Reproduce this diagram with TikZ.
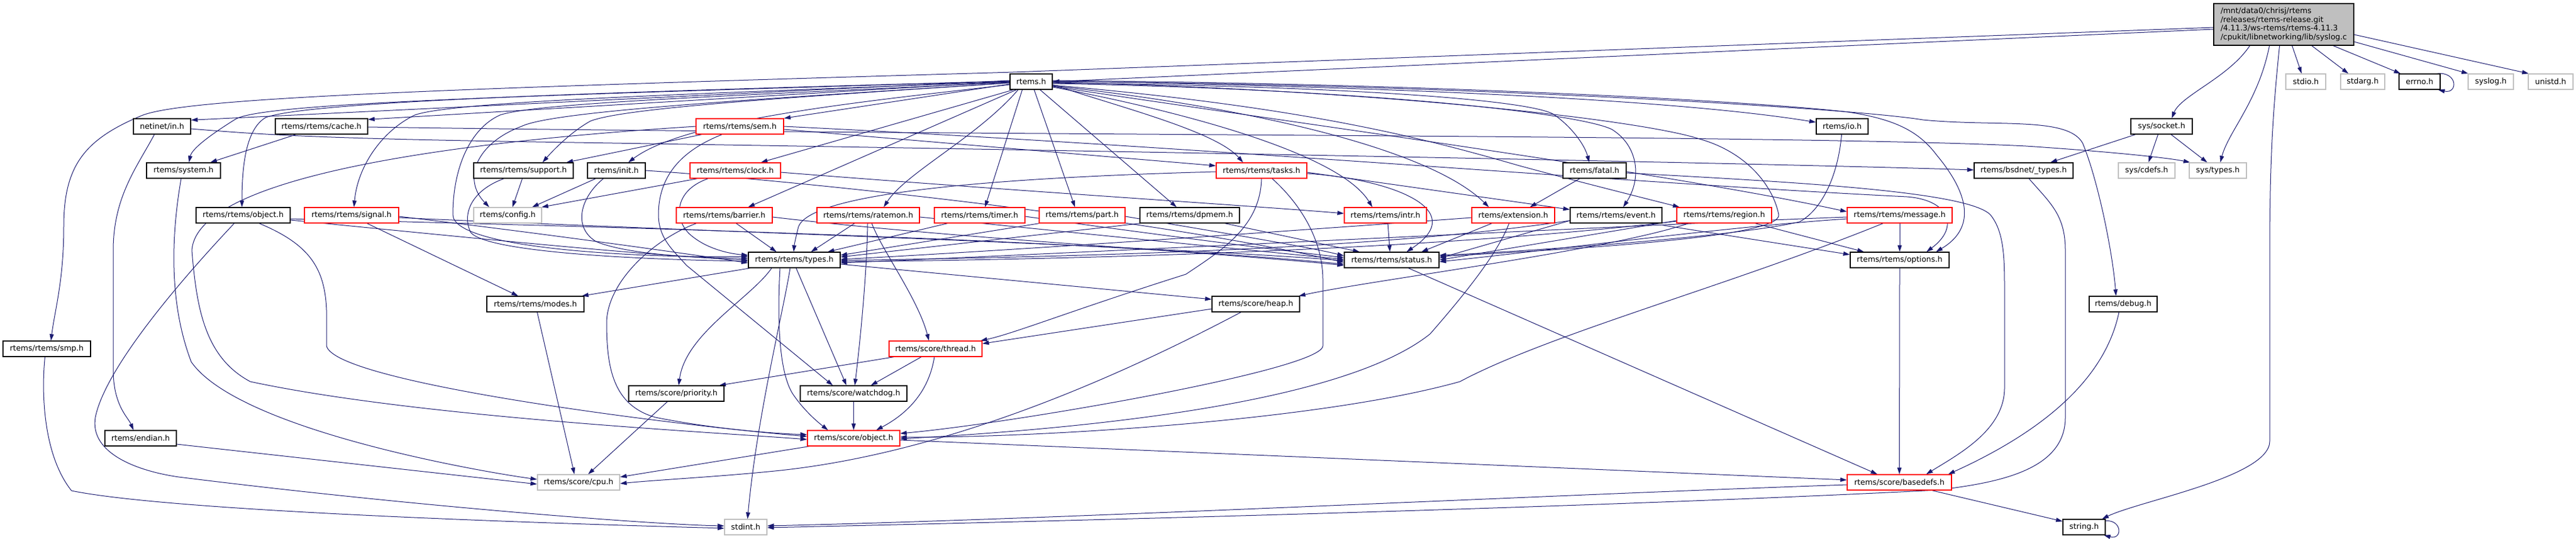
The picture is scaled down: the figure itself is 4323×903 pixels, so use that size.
\documentclass[tikz,border=0pt]{standalone}
\usepackage{fontspec}
\setmainfont{DejaVu Sans}
\usetikzlibrary{arrows.meta}
\definecolor{edgec}{HTML}{191970}
\definecolor{redb}{HTML}{FF0000}
\definecolor{greyb}{HTML}{BFBFBF}
\definecolor{mainfill}{HTML}{BFBFBF}
\pgfdeclarelayer{bg}
\pgfsetlayers{bg,main}
\begin{document}
\begin{tikzpicture}[x=1pt,y=-1pt,
  box/.style={draw=black, fill=white, line width=1.3pt, minimum height=26pt, inner sep=0pt, font=\fontsize{12.9pt}{14.7pt}\selectfont},
  redbox/.style={box, draw=redb},
  greybox/.style={box, draw=greyb},
  e/.style={draw=edgec, line width=1pt, -{Triangle[length=11pt,width=7pt]}}]
\useasboundingbox (0,0) rectangle (4323,903);
% ---------------- nodes ----------------
\node[box, fill=mainfill, minimum width=235pt, minimum height=70pt, align=left] (main) at (3832.5,41) {/mnt/data0/chrisj/rtems\\/releases/rtems-release.git\\/4.11.3/ws-rtems/rtems-4.11.3\\/cpukit/libnetworking/lib/syslog.c};
% row 1
\node[box, minimum width=71pt] (rtems) at (1730.5,137) {rtems.h};
\node[greybox, minimum width=67pt] (stdio) at (3869.5,137) {stdio.h};
\node[greybox, minimum width=74pt] (stdarg) at (3965,137) {stdarg.h};
\node[box, minimum width=69pt] (errno) at (4060.5,137) {errno.h};
\node[greybox, minimum width=76pt] (syslog) at (4180,137) {syslog.h};
\node[greybox, minimum width=75pt] (unistd) at (4280.5,137) {unistd.h};
% row 2
\node[box, minimum width=96pt] (netin) at (272,212) {netinet/in.h};
\node[box, minimum width=155pt] (cache) at (539.5,212) {rtems/rtems/cache.h};
\node[redbox, minimum width=147pt] (sem) at (1241.5,212) {rtems/rtems/sem.h};
\node[box, minimum width=87pt] (io) at (3091.5,212) {rtems/io.h};
\node[box, minimum width=103pt] (socket) at (3627.5,212) {sys/socket.h};
% row 3
\node[box, minimum width=124pt] (system) at (308,286) {rtems/system.h};
\node[box, minimum width=167pt] (support) at (878.5,286) {rtems/rtems/support.h};
\node[box, minimum width=97pt] (init) at (1034.5,286) {rtems/init.h};
\node[redbox, minimum width=152pt] (clock) at (1234,286) {rtems/rtems/clock.h};
\node[redbox, minimum width=152pt] (tasks) at (2117,286) {rtems/rtems/tasks.h};
\node[box, minimum width=106pt] (fatal) at (2676,286) {rtems/fatal.h};
\node[box, minimum width=166pt] (bsdnet) at (3396,286) {rtems/bsdnet/\_types.h};
\node[greybox, minimum width=95pt] (cdefs) at (3602.5,286) {sys/cdefs.h};
\node[greybox, minimum width=96pt] (systypes) at (3722,286) {sys/types.h};
% row 4
\node[box, minimum width=158pt] (robject) at (408,361) {rtems/rtems/object.h};
\node[redbox, minimum width=158pt] (signal) at (590,361) {rtems/rtems/signal.h};
\node[greybox, minimum width=114pt] (config) at (852,361) {rtems/config.h};
\node[redbox, minimum width=161pt] (barrier) at (1215.5,361) {rtems/rtems/barrier.h};
\node[redbox, minimum width=172pt] (ratemon) at (1457,361) {rtems/rtems/ratemon.h};
\node[redbox, minimum width=152pt] (timer) at (1644,361) {rtems/rtems/timer.h};
\node[redbox, minimum width=144pt] (part) at (1816,361) {rtems/rtems/part.h};
\node[box, minimum width=167pt] (dpmem) at (1996.5,361) {rtems/rtems/dpmem.h};
\node[redbox, minimum width=138pt] (intr) at (2325,361) {rtems/rtems/intr.h};
\node[redbox, minimum width=139pt] (ext) at (2539.5,361) {rtems/extension.h};
\node[box, minimum width=154pt] (event) at (2712,361) {rtems/rtems/event.h};
\node[redbox, minimum width=159pt] (region) at (2893.5,361) {rtems/rtems/region.h};
\node[redbox, minimum width=176pt] (message) at (3188,361) {rtems/rtems/message.h};
% row 5
\node[box, minimum width=154pt] (types) at (1333,436) {rtems/rtems/types.h};
\node[box, minimum width=159pt] (status) at (2335.5,436) {rtems/rtems/status.h};
\node[box, minimum width=166pt] (options) at (3188,436) {rtems/rtems/options.h};
% row 6
\node[box, minimum width=163pt] (modes) at (898.5,510) {rtems/rtems/modes.h};
\node[box, minimum width=147pt] (heap) at (2107.5,510) {rtems/score/heap.h};
\node[box, minimum width=114pt] (debug) at (3563,510) {rtems/debug.h};
% row 7
\node[box, minimum width=147pt] (smp) at (78.5,585) {rtems/rtems/smp.h};
\node[redbox, minimum width=156pt] (thread) at (1570,585) {rtems/score/thread.h};
% row 8
\node[box, minimum width=160pt] (priority) at (1135,660) {rtems/score/priority.h};
\node[box, minimum width=179pt] (watchdog) at (1432.5,660) {rtems/score/watchdog.h};
% row 9
\node[box, minimum width=120pt] (endian) at (236,735) {rtems/endian.h};
\node[redbox, minimum width=155pt] (sobject) at (1432.5,735) {rtems/score/object.h};
% row 10
\node[greybox, minimum width=138pt] (cpu) at (971,809) {rtems/score/cpu.h};
\node[redbox, minimum width=175pt] (basedefs) at (3187.5,809) {rtems/score/basedefs.h};
% row 11
\node[greybox, minimum width=71pt] (stdint) at (1251.5,884) {stdint.h};
\node[box, minimum width=71pt] (string) at (3497.5,884) {string.h};
% ---------------- edges ----------------
\begin{pgfonlayer}{bg}
\fill[white] (0,0) rectangle (4323,903);
% main
\draw[e] ([yshift=-8pt]main.west) -- (rtems.east);
\draw[e] ([yshift=-5pt]main.west) -- (1700,121) .. controls (700,150) and (300,165) .. (235,195) .. controls (140,235) and (107,280) .. (107,380) .. controls (107,470) and (92,520) .. ([xshift=7pt]smp.north);
\draw[e] ([xshift=-57pt]main.south) .. controls (3740,130) and (3660,160) .. ([xshift=17pt]socket.north);
\draw[e] ([xshift=-24pt]main.south) .. controls (3790,170) and (3740,220) .. ([xshift=4pt]systypes.north);
\draw[e] ([xshift=-7pt]main.south) .. controls (3815,180) and (3809,260) .. (3809,420) -- (3809,740) .. controls (3809,800) and (3590,840) .. ([xshift=-6pt]string.north east);
\draw[e] ([xshift=14pt]main.south) -- ([xshift=-7pt]stdio.north);
\draw[e] ([xshift=47pt]main.south) -- ([xshift=-24pt]stdarg.north);
\draw[e] ([xshift=83pt]main.south) -- ([xshift=-32pt]errno.north);
\draw[e] ([yshift=-29pt]main.east) -- ([xshift=-38pt]syslog.north);
\draw[e] ([yshift=-17pt]main.east) -- ([xshift=-37pt]unistd.north);
\draw[e] ([xshift=-6pt]errno.north east) .. controls (4125,120) and (4125,158) .. ([xshift=-4pt]errno.south east);
\draw[e] ([yshift=-3pt]string.north east) .. controls (3562,872) and (3562,906) .. ([xshift=-3pt]string.south east);
% socket
\draw[e] ([xshift=-44pt]socket.south) -- ([xshift=45pt]bsdnet.north);
\draw[e] ([xshift=-6pt]socket.south) -- ([xshift=3pt]cdefs.north);
\draw[e] ([xshift=16pt]socket.south) -- ([xshift=-18pt]systypes.north);
% rtems.h to the left
\draw[e] ([yshift=2pt]rtems.west) -- ([yshift=-3pt]netin.north east);
\draw[e] ([yshift=0pt]rtems.west) -- ([yshift=-2pt]cache.north east);
\draw[e] ([yshift=-4pt]rtems.west) -- (sem.north east);
\draw[e] ([yshift=1pt]rtems.west) .. controls (900,160) and (440,172) .. (395,200) .. controls (350,228) and (322,250) .. ([xshift=9pt]system.north);
\draw[e] ([yshift=1pt]rtems.west) .. controls (1000,155) and (520,170) .. (446,197) .. controls (415,215) and (406,270) .. ([xshift=-2pt]robject.north);
\draw[e] ([yshift=0pt]rtems.west) .. controls (1150,158) and (760,170) .. (696,193) .. controls (640,220) and (600,280) .. ([xshift=4pt]signal.north);
\draw[e] ([yshift=-1pt]rtems.west) .. controls (1250,160) and (900,172) .. (839,193) .. controls (790,215) and (760,280) .. (760,360) .. controls (760,420) and (1100,433) .. ([yshift=6pt]types.west);
\draw[e] ([yshift=-2pt]rtems.west) .. controls (1300,165) and (930,185) .. (875,212) .. controls (800,240) and (775,300) .. ([xshift=-31pt]config.north);
\draw[e] ([yshift=-2pt]rtems.west) .. controls (1350,162) and (1050,180) .. (991,203) .. controls (960,220) and (930,250) .. ([xshift=32pt]support.north);
\draw[e] ([yshift=-5pt]rtems.west) .. controls (1450,170) and (1150,200) .. ([xshift=20pt]init.north);
\draw[e] ([xshift=-30pt]rtems.south) -- ([xshift=43pt]clock.north);
\draw[e] ([xshift=-25pt]rtems.south) -- ([xshift=40pt]barrier.north);
% rtems.h downwards / right
\draw[e] ([xshift=-22pt]rtems.south) .. controls (1640,230) and (1520,290) .. ([xshift=26pt]ratemon.north);
\draw[e] ([xshift=-15pt]rtems.south) -- ([xshift=9pt]timer.north);
\draw[e] ([xshift=5pt]rtems.south) -- ([xshift=-12pt]part.north);
\draw[e] ([xshift=15pt]rtems.south) -- ([xshift=-22pt]dpmem.north);
\draw[e] ([yshift=-5pt]rtems.east) .. controls (1880,180) and (2040,220) .. ([xshift=-31pt]tasks.north);
\draw[e] ([yshift=-9pt]rtems.east) .. controls (2000,190) and (2250,260) .. ([xshift=-22pt]intr.north);
\draw[e] ([yshift=-7pt]rtems.east) .. controls (2100,180) and (2400,250) .. ([xshift=-41pt]ext.north);
\draw[e] ([yshift=-2pt]rtems.east) .. controls (2300,145) and (2580,170) .. (2609,193) .. controls (2640,215) and (2660,245) .. ([xshift=-9pt]fatal.north);
\draw[e] ([yshift=-3pt]rtems.east) .. controls (2300,150) and (2650,190) .. (2705,217) .. controls (2750,245) and (2755,300) .. ([xshift=12pt]event.north);
\draw[e] ([yshift=-6pt]rtems.east) .. controls (2200,180) and (2400,235) .. (2550,278) .. controls (2650,305) and (2750,330) .. ([xshift=-75pt]region.north);
\draw[e] ([yshift=-8pt]rtems.east) .. controls (2200,210) and (2800,290) .. ([yshift=6pt]message.west);
\draw[e] ([yshift=1pt]rtems.east) .. controls (2300,145) and (2800,165) .. ([yshift=7pt]io.west);
\draw[e] ([yshift=0pt]rtems.east) .. controls (2400,140) and (3100,180) .. (3227,201) .. controls (3350,213) and (3470,195) .. (3495,240) .. controls (3520,300) and (3545,420) .. ([xshift=-12pt]debug.north);
\draw[e] ([yshift=-1pt]rtems.east) .. controls (2300,150) and (2750,200) .. (2852,233) .. controls (2930,255) and (2975,310) .. (2985,360) .. controls (2990,395) and (2700,415) .. ([yshift=6pt]status.east);
\draw[e] ([yshift=2pt]rtems.east) .. controls (2400,140) and (2950,170) .. (3102,188) .. controls (3180,200) and (3220,220) .. (3250,260) .. controls (3300,320) and (3320,380) .. ([xshift=61pt]options.north);
% cache, netinet
\draw[e] ([xshift=-43pt]cache.south) -- ([xshift=45pt]system.north);
\draw[e] ([yshift=-1pt]cache.east) .. controls (1600,228) and (3000,225) .. (3400,245) .. controls (3550,255) and (3640,265) .. ([xshift=2pt]systypes.north west);
\draw[e] ([xshift=-13pt]netin.south) .. controls (230,280) and (190,330) .. (190,420) -- (190,620) .. controls (190,680) and (215,700) .. ([xshift=-12pt]endian.north);
\draw[e] ([yshift=-4pt]netin.east) .. controls (430,225) and (520,232) .. (900,238) .. controls (2000,255) and (3000,275) .. ([yshift=1pt]bsdnet.west);
% sem
\draw[e] ([xshift=-64pt]sem.south) -- ([xshift=72pt]support.north);
\draw[e] (sem.west) .. controls (800,235) and (330,290) .. (322,420) .. controls (330,520) and (345,600) .. (420,640) .. controls (700,700) and (1200,725) .. ([yshift=-2pt]sobject.west);
\draw[e] ([xshift=-30pt]sem.south) .. controls (1150,250) and (1105,290) .. (1105,360) .. controls (1105,400) and (1130,420) .. (1152,445) -- ([xshift=-35pt]watchdog.north);
\draw[e] ([yshift=-5pt]sem.east) -- ([yshift=8pt]tasks.west);
\draw[e] (sem.east) .. controls (2000,245) and (2700,305) .. (3200,330) .. controls (3270,335) and (3290,380) .. ([xshift=45pt]options.north);
% support, init, clock
\draw[e] ([xshift=-33pt]support.south) .. controls (790,320) and (775,360) .. (790,390) .. controls (820,425) and (1100,436) .. ([yshift=-2pt]types.west);
\draw[e] ([xshift=-2pt]support.south) -- ([xshift=8pt]config.north);
\draw[e] ([xshift=-35pt]init.south) -- ([xshift=41pt]config.north);
\draw[e] ([xshift=-22pt]init.south) .. controls (975,330) and (960,380) .. (1000,405) .. controls (1060,430) and (1200,433) .. ([yshift=3pt]types.west);
\draw[e] (init.east) .. controls (1300,300) and (1900,360) .. ([yshift=-4pt]status.west);
\draw[e] ([xshift=-64pt]clock.south) -- ([xshift=57pt]config.north);
\draw[e] ([xshift=-46pt]clock.south) .. controls (1130,320) and (1130,370) .. (1160,395) .. controls (1190,420) and (1230,426) .. ([yshift=8pt]types.west);
\draw[e] ([yshift=-3pt]clock.east) .. controls (1700,320) and (2100,345) .. ([yshift=3pt]intr.west);
% row 4 left
\draw[e] ([yshift=-8pt]robject.east) .. controls (800,400) and (1100,430) .. ([yshift=0pt]types.west);
\draw[e] ([yshift=-6pt]robject.east) .. controls (1000,380) and (1800,400) .. ([yshift=-7pt]status.west);
\draw[e] ([xshift=-15pt]robject.south) .. controls (360,410) and (180,600) .. (160,700) .. controls (150,760) and (230,790) .. (300,800) .. controls (700,850) and (1100,880) .. ([yshift=2pt]stdint.west);
\draw[e] ([xshift=27pt]robject.south) .. controls (520,410) and (545,450) .. (548,520) -- (548,580) .. controls (560,640) and (1100,710) .. ([yshift=3pt]sobject.west);
\draw[e] ([yshift=-2pt]signal.east) .. controls (900,390) and (1150,425) .. ([yshift=-5pt]types.west);
\draw[e] ([yshift=-4pt]signal.east) .. controls (1100,385) and (1900,410) .. ([yshift=-1pt]status.west);
\draw[e] ([xshift=26pt]signal.south) -- ([xshift=-29pt]modes.north);
\draw[e] ([xshift=20pt]barrier.south) -- ([xshift=-30pt]types.north);
\draw[e] ([yshift=-3pt]barrier.east) .. controls (1600,400) and (2000,420) .. ([yshift=-9pt]status.west);
\draw[e] ([xshift=-47pt]barrier.south) .. controls (1100,400) and (1020,470) .. (1018,540) .. controls (1018,620) and (1030,680) .. (1100,700) .. controls (1200,720) and (1300,727) .. ([yshift=6pt]sobject.west);
\draw[e] ([xshift=-23pt]ratemon.south) -- ([xshift=28pt]types.north);
\draw[e] ([yshift=-3pt]ratemon.east) .. controls (1800,390) and (2100,420) .. ([yshift=1pt]status.west);
\draw[e] ([xshift=-1pt]ratemon.south) .. controls (1455,450) and (1445,560) .. ([xshift=2pt]watchdog.north);
\draw[e] ([xshift=6pt]ratemon.south) .. controls (1480,420) and (1540,500) .. ([xshift=-11pt]thread.north);
\draw[e] ([xshift=-54pt]timer.south) -- ([xshift=56pt]types.north);
\draw[e] ([yshift=-2pt]timer.east) .. controls (1950,395) and (2150,420) .. ([yshift=4pt]status.west);
\draw[e] ([xshift=-72pt]part.south) -- ([yshift=8pt]types.east);
\draw[e] ([yshift=-2pt]part.east) .. controls (2050,390) and (2200,415) .. ([yshift=7pt]status.west);
\draw[e] ([xshift=-83pt]dpmem.south) -- ([yshift=5pt]types.east);
\draw[e] ([xshift=59pt]dpmem.south) -- ([xshift=-54pt]status.north);
% tasks
\draw[e] ([yshift=-2pt]tasks.west) .. controls (1600,300) and (1360,330) .. (1340,380) .. controls (1335,400) and (1333,410) .. ([xshift=-1pt]types.north);
\draw[e] (tasks.south) .. controls (2115,380) and (2050,420) .. (1990,460) .. controls (1800,520) and (1700,560) .. ([xshift=-3pt]thread.north east);
\draw[e] ([xshift=18pt]tasks.south) .. controls (2180,340) and (2220,400) .. (2220,470) -- (2220,580) .. controls (2220,620) and (1700,710) .. ([yshift=8pt]sobject.east);
\draw[e] ([yshift=-5pt]tasks.east) .. controls (2330,300) and (2470,350) .. ([xshift=25pt]status.north);
\draw[e] ([yshift=-3pt]tasks.east) -- ([yshift=-4pt]event.north west);
% row 4 right
\draw[e] ([xshift=4pt]intr.south) -- ([xshift=-3pt]status.north);
\draw[e] ([yshift=-4pt]ext.west) .. controls (2200,385) and (1700,420) .. ([yshift=1pt]types.east);
\draw[e] ([xshift=-36pt]ext.south) -- ([xshift=50pt]status.north);
\draw[e] ([xshift=-7pt]ext.south) .. controls (2515,420) and (2470,480) .. (2400,560) .. controls (2250,680) and (1800,720) .. ([yshift=-1pt]sobject.east);
\draw[e] ([xshift=-25pt]fatal.south) -- ([xshift=28pt]ext.north);
\draw[e] ([yshift=-4pt]fatal.east) .. controls (3000,305) and (3300,320) .. (3340,360) .. controls (3365,390) and (3364,440) .. (3364,500) -- (3364,650) .. controls (3364,720) and (3290,760) .. ([xshift=45pt]basedefs.north);
\draw[e] ([yshift=-3pt]event.south east) -- ([yshift=9pt]options.west);
\draw[e] ([yshift=-9pt]event.west) -- ([yshift=3pt]status.east);
\draw[e] ([yshift=-9pt]event.west) .. controls (2300,420) and (1800,430) .. ([yshift=-1pt]types.east);
\draw[e] ([xshift=52pt]region.south) -- ([xshift=-60pt]options.north);
\draw[e] ([yshift=-9pt]region.west) -- ([yshift=0pt]status.east);
\draw[e] ([yshift=-10pt]region.west) .. controls (2400,420) and (1800,435) .. ([yshift=-3pt]types.east);
\draw[e] ([xshift=-60pt]region.south) .. controls (2700,420) and (2300,470) .. ([xshift=-2pt]heap.north east);
\draw[e] (message.south) -- (options.north);
\draw[e] ([yshift=-6pt]message.west) .. controls (2900,380) and (2600,420) .. ([yshift=-3pt]status.east);
\draw[e] ([yshift=-3pt]message.west) .. controls (2800,375) and (1900,420) .. ([yshift=-5pt]types.east);
\draw[e] ([xshift=-28pt]message.south) .. controls (2900,480) and (2600,560) .. (2450,640) .. controls (2200,710) and (1700,735) .. ([yshift=2pt]sobject.east);
\draw[e] ([xshift=-1pt]io.south) .. controls (3085,290) and (3060,350) .. (3020,372) .. controls (2900,400) and (2500,425) .. ([yshift=8pt]status.east);
% lower part
\draw[e] ([xshift=28pt]status.south) -- ([xshift=-37pt]basedefs.north);
\draw[e] (options.south) -- (basedefs.north);
\draw[e] ([xshift=-7pt]debug.south) .. controls (3540,600) and (3480,700) .. ([xshift=82pt]basedefs.north);
\draw[e] ([xshift=9pt]bsdnet.south) .. controls (3440,340) and (3466,360) .. (3466,420) -- (3466,700) .. controls (3466,790) and (3350,810) .. (3250,822) .. controls (2600,855) and (1600,878) .. ([yshift=-1pt]stdint.east);
\draw[e] ([yshift=-4pt]basedefs.west) .. controls (2600,830) and (1800,870) .. ([yshift=2pt]stdint.east);
\draw[e] ([xshift=55pt]basedefs.south) -- ([yshift=-4pt]string.north west);
\draw[e] ([yshift=-3pt]sobject.east) -- ([yshift=4pt]basedefs.west);
\draw[e] ([xshift=-75pt]sobject.south) -- ([yshift=9pt]cpu.east);
\draw[e] (watchdog.south) -- (sobject.north);
\draw[e] ([xshift=-70pt]thread.south) -- ([xshift=72pt]priority.north);
\draw[e] ([xshift=-24pt]thread.south) -- ([xshift=29pt]watchdog.north);
\draw[e] ([xshift=-2pt]thread.south) .. controls (1560,650) and (1530,690) .. ([xshift=38pt]sobject.north);
\draw[e] ([yshift=-8pt]heap.west) -- ([yshift=-5pt]thread.north east);
\draw[e] ([xshift=-25pt]heap.south) .. controls (1900,620) and (1600,760) .. (1300,790) .. controls (1200,800) and (1100,805) .. ([yshift=-2pt]cpu.east);
\draw[e] ([xshift=-74pt]types.south) -- ([xshift=78pt]modes.north);
\draw[e] ([yshift=-7pt]types.east) -- ([yshift=8pt]heap.west);
\draw[e] ([xshift=-38pt]types.south) .. controls (1260,500) and (1150,560) .. ([xshift=4pt]priority.north);
\draw[e] ([xshift=-7pt]types.south) .. controls (1315,520) and (1270,700) .. ([xshift=3pt]stdint.north);
\draw[e] ([xshift=3pt]types.south) -- ([xshift=-12pt]watchdog.north);
\draw[e] ([xshift=-24pt]types.south) .. controls (1305,520) and (1305,620) .. (1330,660) .. controls (1350,690) and (1375,710) .. ([xshift=-43pt]sobject.north);
\draw[e] ([xshift=3pt]modes.south) -- ([xshift=-7pt]cpu.north);
\draw[e] ([xshift=-15pt]priority.south) -- ([xshift=16pt]cpu.north);
\draw[e] ([yshift=-10pt]endian.east) -- ([yshift=-3pt]cpu.west);
\draw[e] ([xshift=-4pt]system.south) .. controls (290,380) and (280,500) .. (321,607) .. controls (400,720) and (800,790) .. ([yshift=5pt]cpu.west);
\draw[e] ([xshift=-3pt]smp.south) .. controls (70,650) and (70,760) .. (120,823) .. controls (300,860) and (1000,880) .. ([yshift=-2pt]stdint.west);
\end{pgfonlayer}
\end{tikzpicture}
\end{document}
